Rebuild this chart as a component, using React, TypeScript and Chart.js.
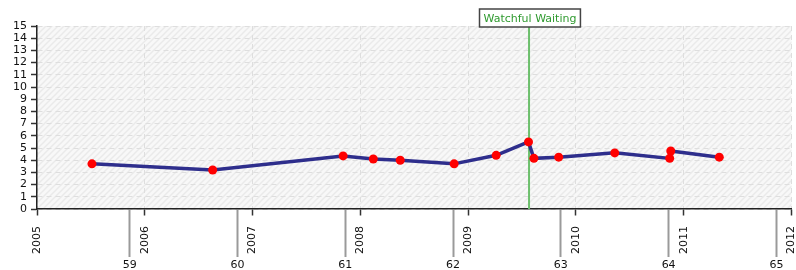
import React, { useEffect, useRef } from 'react';
import { Chart, registerables } from 'chart.js';

Chart.register(...registerables);

// Measurement dates (decimal years) and values
const measureDates = [2005.51, 2006.63, 2007.84, 2008.12, 2008.37, 2008.87, 2009.26, 2009.56, 2009.61, 2009.84, 2010.36, 2010.87, 2010.88, 2011.33];
const measureValues = [3.7, 3.2, 4.35, 4.1, 4.0, 3.7, 4.4, 5.5, 4.15, 4.25, 4.6, 4.15, 4.75, 4.25];

// Axis ticks
const yearTicks = [2005, 2006, 2007, 2008, 2009, 2010, 2011, 2012];
const ageTickPositions = [2005.86, 2006.86, 2007.86, 2008.86, 2009.86, 2010.86, 2011.86];
const ageLabels = ['59', '60', '61', '62', '63', '64', '65'];

// Event marker
const eventDate = 2009.565;
const eventLabel = 'Watchful Waiting';

const FONT_FAMILY = '"DejaVu Sans", Verdana, sans-serif';
const isYear = (v: number) => yearTicks.includes(v);

const backgroundPlugin = {
  id: 'hatchBackground',
  beforeDraw(chart: any) {
    const { ctx, chartArea } = chart;
    const p = document.createElement('canvas');
    p.width = 6;
    p.height = 6;
    const pc = p.getContext('2d')!;
    pc.fillStyle = '#f8f8f8';
    pc.fillRect(0, 0, 6, 6);
    pc.strokeStyle = '#eaeaea';
    pc.lineWidth = 1.5;
    pc.beginPath();
    pc.moveTo(0, 6);
    pc.lineTo(6, 0);
    pc.moveTo(-1, 1);
    pc.lineTo(1, -1);
    pc.moveTo(5, 7);
    pc.lineTo(7, 5);
    pc.stroke();
    const pattern = ctx.createPattern(p, 'repeat');
    ctx.save();
    ctx.fillStyle = pattern;
    ctx.fillRect(chartArea.left, chartArea.top, chartArea.right - chartArea.left, chartArea.bottom - chartArea.top);
    ctx.restore();
  },
};

const eventLabelPlugin = {
  id: 'eventLabel',
  afterDraw(chart: any) {
    const { ctx, chartArea } = chart;
    const x = chart.scales.x.getPixelForValue(eventDate);
    ctx.save();
    ctx.font = '11px ' + FONT_FAMILY;
    const w = ctx.measureText(eventLabel).width + 8;
    const h = 18;
    const top = chartArea.top - h + 1;
    const left = Math.round(x - w / 2) + 0.5;
    ctx.fillStyle = '#ffffff';
    ctx.fillRect(left, top, w, h);
    ctx.strokeStyle = '#444444';
    ctx.lineWidth = 1.5;
    ctx.strokeRect(left, top, w, h);
    ctx.fillStyle = '#2f9a2f';
    ctx.textAlign = 'center';
    ctx.textBaseline = 'middle';
    ctx.fillText(eventLabel, left + w / 2, top + h / 2 + 1);
    ctx.restore();
  },
};

export default function App() {
  const ref = useRef<HTMLCanvasElement>(null);

  useEffect(() => {
    const canvas = ref.current;
    if (!canvas) return;
    const chart = new Chart(canvas, {
      type: 'line',
      data: {
        datasets: [
          {
            data: measureDates.map((d, i) => ({ x: d, y: measureValues[i] })),
            borderColor: '#2e2e8c',
            borderWidth: 3.5,
            pointRadius: 4.5,
            pointBackgroundColor: '#ff0000',
            pointBorderWidth: 0,
            tension: 0,
          },
          {
            data: [
              { x: eventDate, y: 0 },
              { x: eventDate, y: 15 },
            ],
            borderColor: '#6cbf6c',
            borderWidth: 2,
            pointRadius: 0,
          },
        ],
      },
      options: {
        responsive: false,
        animation: false,
        layout: { padding: { top: 26, right: 3, left: 0, bottom: 0 } },
        plugins: { legend: { display: false }, tooltip: { enabled: false } },
        scales: {
          x: {
            type: 'linear',
            position: 'bottom',
            weight: 0,
            min: 2005,
            max: 2012,
            afterBuildTicks: (s: any) => {
              s.ticks = [...yearTicks, ...ageTickPositions].sort((a, b) => a - b).map((v) => ({ value: v }));
            },
            afterFit: (s: any) => {
              s.height = 47;
              s.paddingLeft = 0;
              s.paddingRight = 0;
            },
            ticks: {
              autoSkip: false,
              minRotation: 90,
              maxRotation: 90,
              padding: -31,
              color: '#111',
              font: { family: FONT_FAMILY, size: 11 },
              callback: (v: any) => (isYear(Number(v)) ? String(v) : ''),
            },
            grid: {
              color: (c: any) => (c.tick && isYear(c.tick.value) ? '#dedede' : 'rgba(0,0,0,0)'),
              lineWidth: 1,
              tickLength: 48,
              tickColor: (c: any) => (c.tick && isYear(c.tick.value) ? '#333333' : '#9a9a9a'),
              tickWidth: (c: any) => (c.tick && isYear(c.tick.value) ? 1.5 : 2),
              tickBorderDash: (c: any) => (c.tick && isYear(c.tick.value) ? [6, 200] : []),
            },
            border: { color: '#222', width: 1.5, dash: [5, 4] },
          },
          x2: {
            type: 'linear',
            position: 'bottom',
            weight: 1,
            min: 2005,
            max: 2012,
            afterBuildTicks: (s: any) => {
              s.ticks = ageTickPositions.map((v) => ({ value: v }));
            },
            afterFit: (s: any) => {
              s.height = 14;
              s.paddingLeft = 0;
              s.paddingRight = 0;
            },
            ticks: {
              autoSkip: false,
              maxRotation: 0,
              minRotation: 0,
              padding: 3,
              color: '#111',
              font: { family: FONT_FAMILY, size: 11 },
              callback: (_v: any, i: number) => ageLabels[i],
            },
            grid: { display: false, drawTicks: false },
            border: { display: false },
          },
          y: {
            type: 'linear',
            min: 0,
            max: 15,
            afterFit: (s: any) => {
              s.width = 37;
            },
            ticks: {
              stepSize: 1,
              autoSkip: false,
              padding: 4,
              color: '#111',
              font: { family: FONT_FAMILY, size: 11 },
            },
            grid: {
              color: '#dedede',
              lineWidth: 1,
              tickLength: 6,
              tickColor: '#333',
              tickWidth: 1.5,
            },
            border: { color: '#222', width: 1.5, dash: [5, 4] },
          },
        },
      },
      plugins: [backgroundPlugin, eventLabelPlugin],
    } as any);
    return () => chart.destroy();
  }, []);

  return (
    <div style={{ position: 'fixed', left: 0, top: 0, width: 796, height: 270, background: '#ffffff' }}>
      <canvas ref={ref} width={796} height={270} style={{ display: 'block' }} />
    </div>
  );
}
